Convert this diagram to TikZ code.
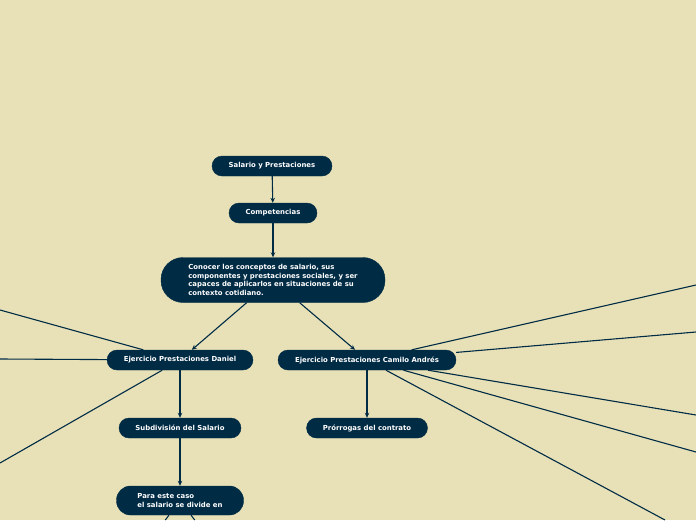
\documentclass[tikz,border=0pt]{standalone}
\usepackage{fontspec}
\setmainfont{DejaVu Sans}
\usetikzlibrary{arrows.meta}
\definecolor{bgc}{HTML}{E8E1B8}
\definecolor{navy}{HTML}{002B45}
\tikzset{
  box/.style={fill=navy, draw=navy, text=white, font=\fontsize{6.9}{8.5}\selectfont\bfseries,
    minimum height=20pt, inner sep=0pt, rounded corners=10pt},
  link/.style={draw=navy, line width=1.1pt},
  arr/.style={link, -{Stealth[length=5pt,width=4.5pt]}}
}
\begin{document}
\begin{tikzpicture}[x=1pt,y=-1pt]
\useasboundingbox (0,0) rectangle (696,520);
\fill[bgc] (0,0) rectangle (696,520);
% nodes
\node[box, minimum width=120pt] (sal) at (272,166) {Salario y Prestaciones};
\node[box, minimum width=88pt] (comp) at (273,213) {Competencias};
\node[box, minimum width=224pt, minimum height=45pt, rounded corners=22pt, align=left] (con) at (273,280)
  {Conocer los conceptos de salario, sus\\componentes y prestaciones sociales, y ser\\capaces de aplicarlos en situaciones de su\\contexto cotidiano.};
\node[box, minimum width=146pt] (dan) at (180,360) {Ejercicio Prestaciones Daniel};
\node[box, minimum width=178pt] (cam) at (367,360) {Ejercicio Prestaciones Camilo Andrés};
\node[box, minimum width=122pt] (sub) at (180,428) {Subdivisión del Salario};
\node[box, minimum width=121pt] (pro) at (367,428) {Prórrogas del contrato};
\node[box, minimum width=127pt, minimum height=29pt, rounded corners=14pt, align=left] (para) at (180,500.5)
  {Para este caso\\el salario se divide en};
% free ends
\coordinate (dl1) at (0,310);
\coordinate (dl2) at (0,359);
\coordinate (dl3) at (0,463);
\coordinate (cr1) at (696,285);
\coordinate (cr2) at (696,332);
\coordinate (cr3) at (696,415);
\coordinate (cr4) at (696,452);
\coordinate (cr5) at (665,520);
\coordinate (pd1) at (165.3,520);
\coordinate (pd2) at (194.7,520);
% connectors
\draw[arr] (sal) -- (comp);
\draw[arr] (comp) -- (con);
\draw[arr] (con) -- (dan);
\draw[arr] (con) -- (cam);
\draw[arr] (dan) -- (sub);
\draw[arr] (sub) -- (para);
\draw[arr] (cam) -- (pro);
\foreach \c in {dl1,dl2,dl3} \draw[link] (dan) -- (\c);
\foreach \c in {cr1,cr2,cr3,cr4,cr5} \draw[link] (cam) -- (\c);
\draw[link] (para) -- (pd1);
\draw[link] (para) -- (pd2);
\end{tikzpicture}
\end{document}
